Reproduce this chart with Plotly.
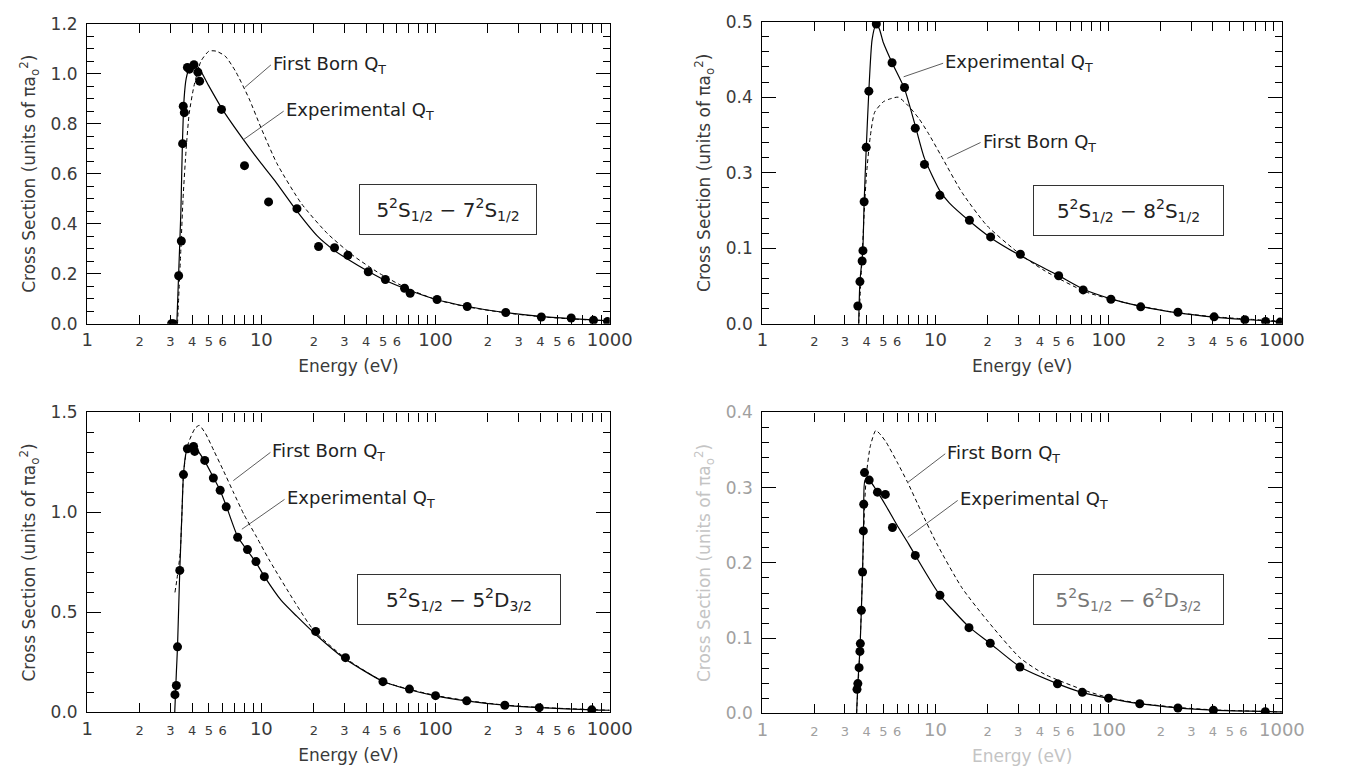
import plotly.graph_objects as go

# ---------------- Panel (a): 5²S1/2 - 7²S1/2 ----------------
a_exp_E = [3.05, 3.12, 3.35, 3.47, 3.53, 3.56, 3.61, 3.76, 3.86, 4.1, 4.32, 4.42, 5.9, 8.0, 11.0, 16.0, 21.3, 26.3, 31.4, 41.1, 51.5, 66.4, 71.5, 102, 152, 253, 405, 601, 807, 972]
a_exp_Q = [0.0, 0.0, 0.192, 0.331, 0.72, 0.87, 0.844, 1.025, 1.018, 1.036, 1.006, 0.97, 0.857, 0.632, 0.487, 0.46, 0.309, 0.304, 0.274, 0.208, 0.177, 0.142, 0.122, 0.097, 0.069, 0.045, 0.027, 0.023, 0.014, 0.009]
a_fit_E = [3.27, 3.35, 3.45, 3.52, 3.6, 3.7, 3.85, 4.1, 4.4, 5.0, 6.0, 8.0, 10, 12, 16, 21, 26, 31, 41, 51, 70, 100, 150, 250, 400, 600, 1000]
a_fit_Q = [0.0, 0.2, 0.45, 0.72, 0.9, 0.98, 1.02, 1.04, 1.02, 0.95, 0.855, 0.73, 0.64, 0.57, 0.45, 0.35, 0.295, 0.26, 0.21, 0.175, 0.135, 0.098, 0.07, 0.045, 0.029, 0.02, 0.011]
a_born_E = [3.3, 3.45, 3.55, 3.7, 3.85, 4.1, 4.5, 5.0, 5.5, 6.2, 7.1, 8.5, 10, 12.3, 17, 24, 34, 48, 67, 100, 150, 250, 400, 600, 1000]
a_born_Q = [0.0, 0.3, 0.5, 0.7, 0.84, 0.95, 1.05, 1.09, 1.09, 1.07, 1.01, 0.9, 0.78, 0.64, 0.48, 0.36, 0.27, 0.2, 0.145, 0.097, 0.068, 0.044, 0.028, 0.019, 0.011]

# ---------------- Panel (b): 5²S1/2 - 8²S1/2 ----------------
b_exp_E = [3.56, 3.66, 3.77, 3.81, 3.87, 3.98, 4.12, 4.55, 5.61, 6.62, 7.64, 8.63, 10.6, 15.7, 20.8, 30.9, 51.4, 71.2, 103, 153, 251, 406, 611, 805, 977]
b_exp_Q = [0.0234, 0.0558, 0.083, 0.0968, 0.1616, 0.2336, 0.308, 0.397, 0.3456, 0.3128, 0.259, 0.211, 0.170, 0.137, 0.115, 0.092, 0.0636, 0.0448, 0.0324, 0.0224, 0.0152, 0.0091, 0.0052, 0.003, 0.0022]
b_fit_E = [3.6, 3.66, 3.8, 3.87, 3.98, 4.12, 4.3, 4.5, 4.7, 5.0, 5.6, 6.6, 7.6, 8.6, 10.6, 12, 15.7, 20.8, 31, 51, 71, 103, 153, 251, 406, 611, 1000]
b_fit_Q = [0.0, 0.056, 0.096, 0.16, 0.232, 0.308, 0.376, 0.394, 0.392, 0.372, 0.346, 0.312, 0.264, 0.22, 0.176, 0.16, 0.136, 0.114, 0.09, 0.064, 0.046, 0.033, 0.023, 0.0144, 0.0088, 0.0056, 0.0024]
b_born_E = [3.6, 3.75, 3.9, 4.0, 4.2, 4.45, 5.0, 5.5, 6.1, 7.0, 8.0, 9.1, 10.8, 14.2, 19.8, 30.8, 42.8, 74, 129, 225, 390, 1000]
b_born_Q = [0.0, 0.08, 0.16, 0.2, 0.248, 0.28, 0.294, 0.298, 0.3, 0.288, 0.272, 0.252, 0.222, 0.174, 0.13, 0.092, 0.07, 0.042, 0.027, 0.016, 0.0096, 0.0032]

# ---------------- Panel (c): 5²S1/2 - 5²D3/2 ----------------
c_exp_E = [3.19, 3.25, 3.30, 3.40, 3.57, 3.76, 4.08, 4.14, 4.73, 5.30, 5.80, 6.28, 7.31, 8.32, 9.31, 10.4, 20.5, 30.4, 49.9, 70.8, 100, 151, 250, 394, 789]
c_exp_Q = [0.089, 0.135, 0.328, 0.71, 1.189, 1.318, 1.33, 1.305, 1.26, 1.172, 1.111, 1.028, 0.876, 0.814, 0.754, 0.679, 0.405, 0.274, 0.154, 0.117, 0.084, 0.058, 0.036, 0.024, 0.013]
c_fit_E = [3.18, 3.25, 3.3, 3.4, 3.5, 3.57, 3.7, 3.85, 4.1, 4.7, 5.3, 5.8, 6.3, 7.3, 8.3, 9.3, 10.4, 13, 16, 20.5, 30, 50, 70, 100, 150, 250, 400, 800, 1000]
c_fit_Q = [0.0, 0.2, 0.33, 0.71, 1.0, 1.19, 1.3, 1.33, 1.33, 1.26, 1.175, 1.11, 1.03, 0.88, 0.81, 0.75, 0.68, 0.56, 0.48, 0.39, 0.27, 0.155, 0.115, 0.083, 0.058, 0.036, 0.024, 0.013, 0.011]
c_born_E = [3.19, 3.28, 3.42, 3.5, 3.57, 3.7, 3.82, 4.16, 4.4, 4.78, 5.36, 6.0, 6.89, 7.95, 9.4, 11.1, 15.6, 20, 30, 50, 70, 100, 150, 250, 400, 1000]
c_born_Q = [0.6, 0.67, 0.8, 1.0, 1.19, 1.3, 1.35, 1.42, 1.435, 1.394, 1.305, 1.216, 1.103, 0.989, 0.876, 0.762, 0.55, 0.41, 0.275, 0.155, 0.117, 0.085, 0.06, 0.037, 0.025, 0.011]

# ---------------- Panel (d): 5²S1/2 - 6²D3/2 ----------------
d_exp_E = [3.52, 3.56, 3.62, 3.66, 3.68, 3.73, 3.79, 3.83, 3.85, 3.89, 4.14, 4.62, 5.13, 5.64, 7.64, 10.6, 15.6, 20.7, 30.7, 50.6, 70.4, 99.8, 151, 251, 402, 802]
d_exp_Q = [0.032, 0.0397, 0.0608, 0.0824, 0.0928, 0.137, 0.188, 0.2425, 0.278, 0.320, 0.310, 0.294, 0.291, 0.247, 0.210, 0.157, 0.114, 0.0932, 0.0617, 0.0393, 0.028, 0.0203, 0.0129, 0.0073, 0.0043, 0.0022]
d_fit_E = [3.5, 3.56, 3.66, 3.73, 3.79, 3.85, 3.92, 4.14, 4.6, 5.2, 6.0, 7.0, 7.64, 10.6, 15.6, 20.7, 30.7, 50, 70, 100, 150, 250, 400, 1000]
d_fit_Q = [0.0, 0.04, 0.085, 0.137, 0.188, 0.26, 0.31, 0.31, 0.295, 0.275, 0.25, 0.225, 0.21, 0.157, 0.115, 0.093, 0.062, 0.04, 0.028, 0.02, 0.013, 0.0075, 0.0045, 0.002]
d_born_E = [3.5, 3.66, 3.79, 3.9, 4.0, 4.2, 4.52, 4.83, 5.2, 6.0, 6.9, 8.2, 10.2, 14.2, 19.8, 30.7, 42.7, 74, 100, 150, 250, 400, 1000]
d_born_Q = [0.0, 0.085, 0.19, 0.28, 0.32, 0.355, 0.376, 0.37, 0.36, 0.334, 0.307, 0.27, 0.225, 0.167, 0.124, 0.074, 0.052, 0.03, 0.021, 0.0135, 0.008, 0.0048, 0.002]

# ---------------- axis tick labels ----------------
x_tick_vals = [1, 2, 3, 4, 5, 6, 10, 20, 30, 40, 50, 60, 100, 200, 300, 400, 500, 600, 1000]
x_tick_labels = ["1", "2", "3", "4", "5", "6", "10", "2", "3", "4", "5", "6", "100", "2", "3", "4", "5", "6", "1000"]
x_minor_vals = [7, 8, 9, 70, 80, 90, 700, 800, 900]
x_decades = [1, 10, 100, 1000]

y_ticks = {
    "a": ([0, 0.2, 0.4, 0.6, 0.8, 1.0, 1.2], ["0.0", "0.2", "0.4", "0.6", "0.8", "1.0", "1.2"]),
    "b": ([0, 0.1, 0.2, 0.3, 0.4], ["0.0", "0.1", "0.3", "0.4", "0.5"]),
    "c": ([0, 0.5, 1.0, 1.5], ["0.0", "0.5", "1.0", "1.5"]),
    "d": ([0, 0.1, 0.2, 0.3, 0.4], ["0.0", "0.1", "0.2", "0.3", "0.4"]),
}
box_texts = {
    "a": "5<sup>2</sup>S<sub>1/2</sub> − 7<sup>2</sup>S<sub>1/2</sub>",
    "b": "5<sup>2</sup>S<sub>1/2</sub> − 8<sup>2</sup>S<sub>1/2</sub>",
    "c": "5<sup>2</sup>S<sub>1/2</sub> − 5<sup>2</sup>D<sub>3/2</sub>",
    "d": "5<sup>2</sup>S<sub>1/2</sub> − 6<sup>2</sup>D<sub>3/2</sub>",
}
born_label = "First Born Q<sub>T</sub>"
exp_label = "Experimental Q<sub>T</sub>"
x_title = "Energy (eV)"
y_title = "Cross Section (units of πa<sub>o</sub><sup>2</sup>)"

FONT = "DejaVu Sans, Liberation Sans, sans-serif"
W, H = 1346, 778

panels = [
    dict(key="a", n="", dom_x=(83, 617), dom_y=(14, 322), yr=1.2, ydt=0.05,
         exp=(a_exp_E, a_exp_Q), fit=(a_fit_E, a_fit_Q), born=(a_born_E, a_born_Q),
         born_ann=((1.055, 1.035), (0.905, 0.945)), exp_ann=((1.128, 0.85), (0.895, 0.735)),
         box=(2.07, 0.455, 172), tick_col="#3a3a3a", title_col="#3a3a3a", box_col="#222"),
    dict(key="b", n="2", dom_x=(773, 1304), dom_y=(12, 322), yr=0.4, ydt=0.02,
         exp=(b_exp_E, b_exp_Q), fit=(b_fit_E, b_fit_Q), born=(b_born_E, b_born_Q),
         born_ann=((1.26, 0.240), (1.068, 0.219)), exp_ann=((1.044, 0.345), (0.816, 0.327)),
         box=(2.117, 0.150, 185), tick_col="#3a3a3a", title_col="#3a3a3a", box_col="#222"),
    dict(key="c", n="3", dom_x=(83, 617), dom_y=(413, 721), yr=1.5, ydt=0.1,
         exp=(c_exp_E, c_exp_Q), fit=(c_fit_E, c_fit_Q), born=(c_born_E, c_born_Q),
         born_ann=((1.052, 1.30), (0.839, 1.159)), exp_ann=((1.133, 1.065), (0.888, 0.916)),
         box=(2.135, 0.566, 198), tick_col="#3a3a3a", title_col="#3a3a3a", box_col="#222"),
    dict(key="d", n="4", dom_x=(773, 1304), dom_y=(413, 722), yr=0.4, ydt=0.02,
         exp=(d_exp_E, d_exp_Q), fit=(d_fit_E, d_fit_Q), born=(d_born_E, d_born_Q),
         born_ann=((1.056, 0.345), (0.84, 0.307)), exp_ann=((1.128, 0.283), (0.84, 0.234)),
         box=(2.112, 0.151, 185), tick_col="#a0a0a0", title_col="#c4c4c4", box_col="#777"),
]

fig = go.Figure()
annotations = []
layout = dict(width=W, height=H, margin=dict(l=0, r=0, t=0, b=0),
              paper_bgcolor="white", plot_bgcolor="white", showlegend=False,
              font=dict(family=FONT, color="#333"))

x_text_html = [t if t in ("1", "10", "100", "1000") else f"<span style='font-size:13px'>{t}</span>"
               for t in x_tick_labels]

for i, p in enumerate(panels):
    n = p["n"]
    xa, ya = "x" + n, "y" + n
    xk, yk = "xaxis" + n, "yaxis" + n
    dx = [p["dom_x"][0] / W, p["dom_x"][1] / W]
    dy = [1 - p["dom_y"][1] / H, 1 - p["dom_y"][0] / H]

    E, Q = p["born"]
    fig.add_trace(go.Scatter(x=E, y=Q, mode="lines", xaxis=xa, yaxis=ya,
                             line=dict(color="black", width=1, dash="4px,3px", shape="spline", smoothing=0.6)))
    E, Q = p["fit"]
    fig.add_trace(go.Scatter(x=E, y=Q, mode="lines", xaxis=xa, yaxis=ya,
                             line=dict(color="black", width=1.2, shape="spline", smoothing=0.6)))
    E, Q = p["exp"]
    fig.add_trace(go.Scatter(x=E, y=Q, mode="markers", xaxis=xa, yaxis=ya,
                             marker=dict(color="black", size=9)))

    tv, tt = y_ticks[p["key"]]
    layout[xk] = dict(type="log", range=[0, 3], domain=dx, anchor=ya,
                      tickvals=x_tick_vals, ticktext=x_text_html, ticks="inside", ticklen=9,
                      tickcolor="black", tickwidth=1, showgrid=False, zeroline=False,
                      showline=True, linecolor="black", linewidth=1.3, mirror="ticks",
                      tickfont=dict(size=18, color=p["tick_col"], family=FONT),
                      minor=dict(tickvals=x_minor_vals, ticks="inside", ticklen=9,
                                 tickcolor="black", tickwidth=1),
                      title=dict(text=x_title, font=dict(size=17, color=p["title_col"], family=FONT), standoff=10))
    layout[yk] = dict(range=[0, p["yr"]], domain=dy, anchor=xa,
                      tickvals=tv, ticktext=tt, ticks="inside", ticklen=14,
                      tickcolor="black", tickwidth=1, showgrid=False, zeroline=False,
                      showline=True, linecolor="black", linewidth=1.3, mirror="ticks",
                      ticklabelstandoff=5,
                      tickfont=dict(size=17, color=p["tick_col"], family=FONT),
                      minor=dict(dtick=p["ydt"], ticks="inside", ticklen=7,
                                 tickcolor="black", tickwidth=1),
                      title=dict(text=y_title, font=dict(size=17, color=p["title_col"], family=FONT), standoff=10))
    ok = "xaxis" + str(5 + i)
    layout[ok] = dict(type="log", range=[0, 3], overlaying=xa, anchor=ya,
                      tickvals=x_decades, ticks="inside", ticklen=13, tickcolor="black", tickwidth=1,
                      showticklabels=False, showgrid=False, zeroline=False, showline=False,
                      mirror="ticks")

    (tx, ty), (hx, hy) = p["born_ann"]
    annotations.append(dict(xref=xa, yref=ya, axref=xa, ayref=ya, x=hx, y=hy, ax=tx, ay=ty,
                            text=born_label, showarrow=True, arrowhead=0, arrowwidth=0.8,
                            arrowcolor="#333", xanchor="left", yanchor="middle", standoff=0,
                            font=dict(size=18, color="#222", family=FONT)))
    (tx, ty), (hx, hy) = p["exp_ann"]
    annotations.append(dict(xref=xa, yref=ya, axref=xa, ayref=ya, x=hx, y=hy, ax=tx, ay=ty,
                            text=exp_label, showarrow=True, arrowhead=0, arrowwidth=0.8,
                            arrowcolor="#333", xanchor="left", yanchor="middle", standoff=0,
                            font=dict(size=18, color="#222", family=FONT)))
    bx, by, bw = p["box"]
    annotations.append(dict(xref=xa, yref=ya, x=bx, y=by, text=box_texts[p["key"]],
                            showarrow=False, width=bw, height=45, borderwidth=1, bordercolor="#333",
                            borderpad=2, xanchor="center", yanchor="middle",
                            font=dict(size=20, color=p["box_col"], family=FONT)))

layout["annotations"] = annotations
fig.update_layout(**layout)
fig.write_html("out.html")
